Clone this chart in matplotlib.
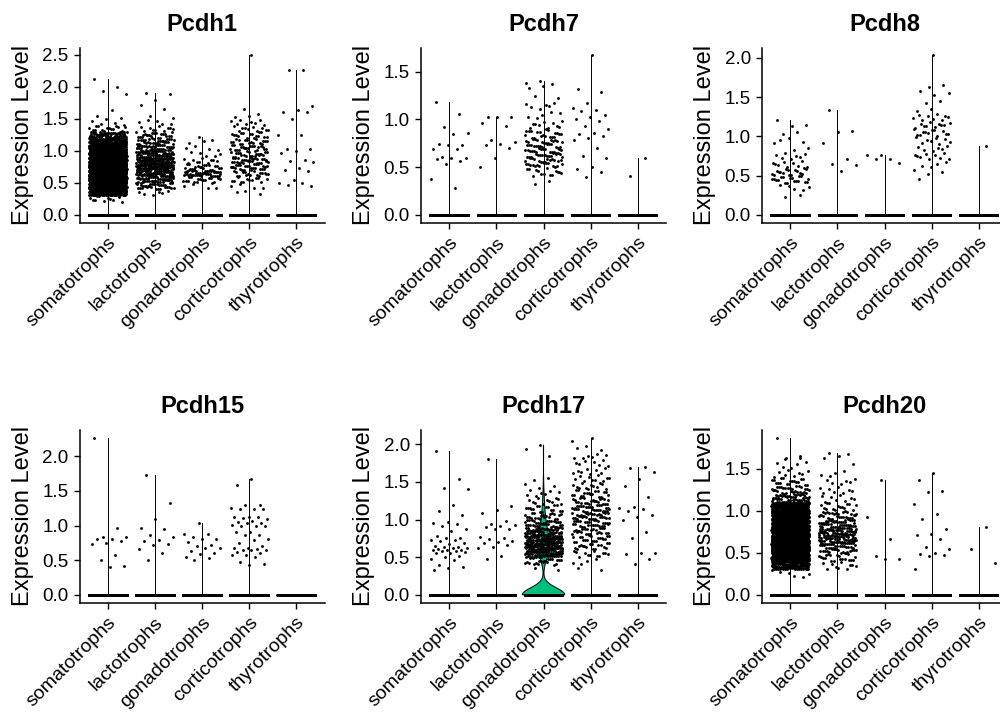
import numpy as np
import matplotlib
matplotlib.use('Agg')
import matplotlib.pyplot as plt
from matplotlib.ticker import MultipleLocator, FormatStrFormatter

plt.rcParams['font.family'] = ['Liberation Sans', 'DejaVu Sans']

genes = ['Pcdh1', 'Pcdh7', 'Pcdh8', 'Pcdh15', 'Pcdh17', 'Pcdh20']
cell_types = ['somatotrophs', 'lactotrophs', 'gonadotrophs', 'corticotrophs', 'thyrotrophs']
cell_totals = [10000, 2600, 1000, 1600, 300]
group_colors = ['#F8766D', '#A3A500', '#00BF7D', '#00B0F6', '#E76BF3']

# dense parts are stored as counts per 0.1-wide bin starting at 0.2
bin_start = 0.2
bin_width = 0.1

pcdh1_points = [
    [2.12, 1.99, 1.93, 1.89, 1.64, 1.55, 1.52, 1.49, 1.46, 1.44, 1.42, 1.40],
    [1.91, 1.89, 1.80, 1.72, 1.66, 1.55, 1.52],
    [1.21],
    [2.49],
    [2.26, 2.27, 1.70, 1.63, 1.61, 1.60, 1.50, 1.25, 1.24, 1.03, 1.02, 1.00,
     0.97, 0.85, 0.84, 0.82, 0.73, 0.70, 0.69, 0.55, 0.50, 0.49, 0.47, 0.45],
]
pcdh1_bins = [
    [10, 150, 230, 260, 270, 260, 230, 200, 160, 110, 60, 15],
    [0, 6, 30, 45, 62, 90, 80, 55, 40, 30, 22, 10, 5],
    [0, 0, 4, 18, 45, 20, 10, 5, 4, 3],
    [0, 3, 4, 12, 18, 25, 28, 22, 22, 18, 15, 10, 8, 3, 1],
    [],
]

pcdh7_points = [
    [1.18, 1.06, 0.92, 0.86, 0.85, 0.74, 0.73, 0.73, 0.69, 0.69, 0.61, 0.59,
     0.59, 0.58, 0.56, 0.53, 0.37, 0.28],
    [1.03, 1.02, 1.02, 0.96, 0.93, 0.78, 0.76, 0.74, 0.73, 0.70, 0.60, 0.50],
    [1.40, 1.38],
    [1.67, 1.32, 1.29, 1.17, 1.12, 1.10, 1.09, 1.05, 1.03, 1.00, 0.98, 0.93,
     0.90, 0.86, 0.85, 0.83, 0.80, 0.78, 0.70, 0.62, 0.59, 0.50, 0.48, 0.45, 0.40],
    [0.59, 0.41],
]
pcdh7_bins = [
    [],
    [],
    [0, 2, 14, 28, 32, 28, 20, 10, 5, 6, 2, 3],
    [],
    [],
]

pcdh8_points = [
    [1.21],
    [1.34, 1.07, 1.06, 0.92, 0.71, 0.65, 0.64, 0.56],
    [0.76, 0.76, 0.71, 0.71, 0.66],
    [2.03],
    [0.87],
]
pcdh8_bins = [
    [2, 5, 18, 16, 9, 7, 2, 4, 2, 2],
    [],
    [],
    [0, 0, 1, 3, 4, 9, 6, 8, 12, 10, 9, 2, 2, 3, 2],
    [],
]

pcdh15_points = [
    [2.27, 0.96, 0.84, 0.84, 0.81, 0.80, 0.77, 0.75, 0.73, 0.58, 0.51, 0.41, 0.40],
    [1.73, 1.33, 1.09, 0.96, 0.95, 0.86, 0.84, 0.79, 0.77, 0.73, 0.72, 0.66,
     0.60, 0.51],
    [1.03, 0.88, 0.88, 0.84, 0.80, 0.80, 0.76, 0.72, 0.70, 0.68, 0.67, 0.63,
     0.60, 0.59, 0.55, 0.53, 0.51],
    [1.67, 1.58, 1.30, 1.29, 1.26, 1.24, 1.24, 1.24, 1.13, 1.12, 1.12, 1.11,
     1.10, 1.07, 1.05, 1.04, 1.03, 1.01, 1.00, 0.99, 0.99, 0.90, 0.90, 0.87,
     0.86, 0.81, 0.79, 0.75, 0.70, 0.68, 0.67, 0.66, 0.65, 0.64, 0.64, 0.62,
     0.60, 0.58, 0.57, 0.55, 0.47, 0.45, 0.43],
    [],
]
pcdh15_bins = [[], [], [], [], []]

pcdh17_points = [
    [1.91, 1.54, 1.42, 1.40, 1.20, 1.11, 1.06, 0.97, 0.95, 0.94, 0.92, 0.88,
     0.85, 0.78, 0.75, 0.75, 0.73, 0.73, 0.72, 0.69, 0.67, 0.65, 0.64, 0.63,
     0.62, 0.62, 0.61, 0.60, 0.60, 0.59, 0.58, 0.58, 0.57, 0.56, 0.55, 0.52,
     0.50, 0.48, 0.46, 0.40, 0.37, 0.35, 0.33],
    [1.80, 1.18, 1.13, 1.09, 0.98, 0.94, 0.93, 0.92, 0.90, 0.88, 0.87, 0.77,
     0.76, 0.74, 0.72, 0.70, 0.69, 0.66, 0.64, 0.62, 0.51, 0.47],
    [1.99, 1.94, 1.84],
    [2.09],
    [1.70, 1.69, 1.63, 1.54, 1.44, 1.30, 1.17, 1.16, 1.14, 1.11, 1.06, 1.04,
     1.00, 0.84, 0.75, 0.56, 0.56, 0.54, 0.48, 0.41],
]
pcdh17_bins = [
    [],
    [],
    [0, 2, 22, 70, 85, 72, 52, 34, 22, 17, 11, 7, 3, 2],
    [0, 2, 4, 12, 17, 20, 24, 28, 32, 30, 24, 18, 12, 10, 8, 7, 6, 3, 1],
    [],
]

pcdh20_points = [
    [1.87, 1.63, 1.62],
    [1.69],
    [1.37, 0.92, 0.66, 0.46, 0.43, 0.43],
    [1.45, 1.36, 1.23, 1.22, 1.08, 0.96, 0.90, 0.78, 0.72, 0.71, 0.66, 0.57,
     0.55, 0.50, 0.49, 0.47, 0.46, 0.31],
    [0.81, 0.54, 0.38],
]
pcdh20_bins = [
    [5, 120, 260, 300, 300, 280, 250, 220, 160, 50, 30, 18, 8, 5, 2],
    [0, 10, 20, 35, 60, 60, 45, 30, 15, 8, 8, 6, 4, 1, 3],
    [],
    [],
    [],
]

gene_points = [pcdh1_points, pcdh7_points, pcdh8_points,
               pcdh15_points, pcdh17_points, pcdh20_points]
gene_bins = [pcdh1_bins, pcdh7_bins, pcdh8_bins,
             pcdh15_bins, pcdh17_bins, pcdh20_bins]


def van_der_corput(k):
    q, denom = 0.0, 1.0
    while k:
        denom *= 2
        k, r = divmod(k, 2)
        q += r / denom
    return q


def expression_values(points, bins, total):
    vals = list(points)
    for i, c in enumerate(bins):
        lo = bin_start + i * bin_width
        vals += [lo + bin_width * van_der_corput(j + 1) for j in range(c)]
    zeros = total - len(vals)
    return np.array(vals + [0.0] * zeros)


def jitter(n, phase):
    k = np.arange(n)
    return ((k * 0.6180339887 + phase) % 1.0 - 0.5) * 0.8


def bw_nrd0(v):
    hi = v.std(ddof=1)
    q75, q25 = np.percentile(v, [75, 25])
    lo = min(hi, (q75 - q25) / 1.34)
    return 0.9 * lo * len(v) ** -0.2


def draw_violin(ax, pos, v, color):
    if v.max() <= 0:
        return
    bw = bw_nrd0(v)
    if bw <= 0:
        # degenerate density collapses to its centre line
        ax.plot([pos, pos], [v.min(), v.max()], color='black', lw=0.7, zorder=1)
        return
    grid = np.linspace(v.min(), v.max(), 512)
    dens = np.exp(-0.5 * ((grid[:, None] - v[None, :]) / bw) ** 2).sum(axis=1)
    half = 0.45 * dens / dens.max()
    xs = np.concatenate([pos - half, (pos + half)[::-1]])
    ys = np.concatenate([grid, grid[::-1]])
    ax.fill(xs, ys, facecolor=color, edgecolor='black', lw=0.7, zorder=1)


fig = plt.figure(figsize=(10, 7.16), dpi=100)
W, H = 1000.0, 716.0
col_left = [79.5, 421.0, 762.0]
row_top = [47.5, 429.7]
row_height = [175.2, 173.0]
ax_width = 245.0

for g, gene in enumerate(genes):
    r, c = divmod(g, 3)
    ax = fig.add_axes([col_left[c] / W, 1 - (row_top[r] + row_height[r]) / H,
                       ax_width / W, row_height[r] / H])
    ymax = 0.0
    for i in range(len(cell_types)):
        v = expression_values(gene_points[g][i], gene_bins[g][i], cell_totals[i])
        ymax = max(ymax, v.max())
        pos = i + 1
        draw_violin(ax, pos, v, group_colors[i])
        ax.scatter(pos + jitter(len(v), 0.137 * (i + 1)), v, s=4.2, c='black',
                   linewidths=0, zorder=2)

    ax.set_xlim(0.4, len(cell_types) + 0.6)
    ax.set_ylim(-0.05 * ymax, 1.05 * ymax)
    ax.set_xticks(range(1, len(cell_types) + 1))
    ax.set_xticklabels(cell_types, rotation=45, ha='right', va='top',
                       rotation_mode='anchor', fontsize=14)
    ax.yaxis.set_major_locator(MultipleLocator(0.5))
    ax.yaxis.set_major_formatter(FormatStrFormatter('%.1f'))
    ax.tick_params(axis='y', labelsize=13.5)
    ax.tick_params(length=4, width=1.0, color='black', pad=4)
    for side in ['top', 'right']:
        ax.spines[side].set_visible(False)
    for side in ['left', 'bottom']:
        ax.spines[side].set_linewidth(1.1)
    ax.set_ylabel('Expression Level', fontsize=17, labelpad=6)
    ax.set_title(gene, fontsize=17, fontweight='bold', pad=12)

fig.savefig('out.png', dpi=100)
